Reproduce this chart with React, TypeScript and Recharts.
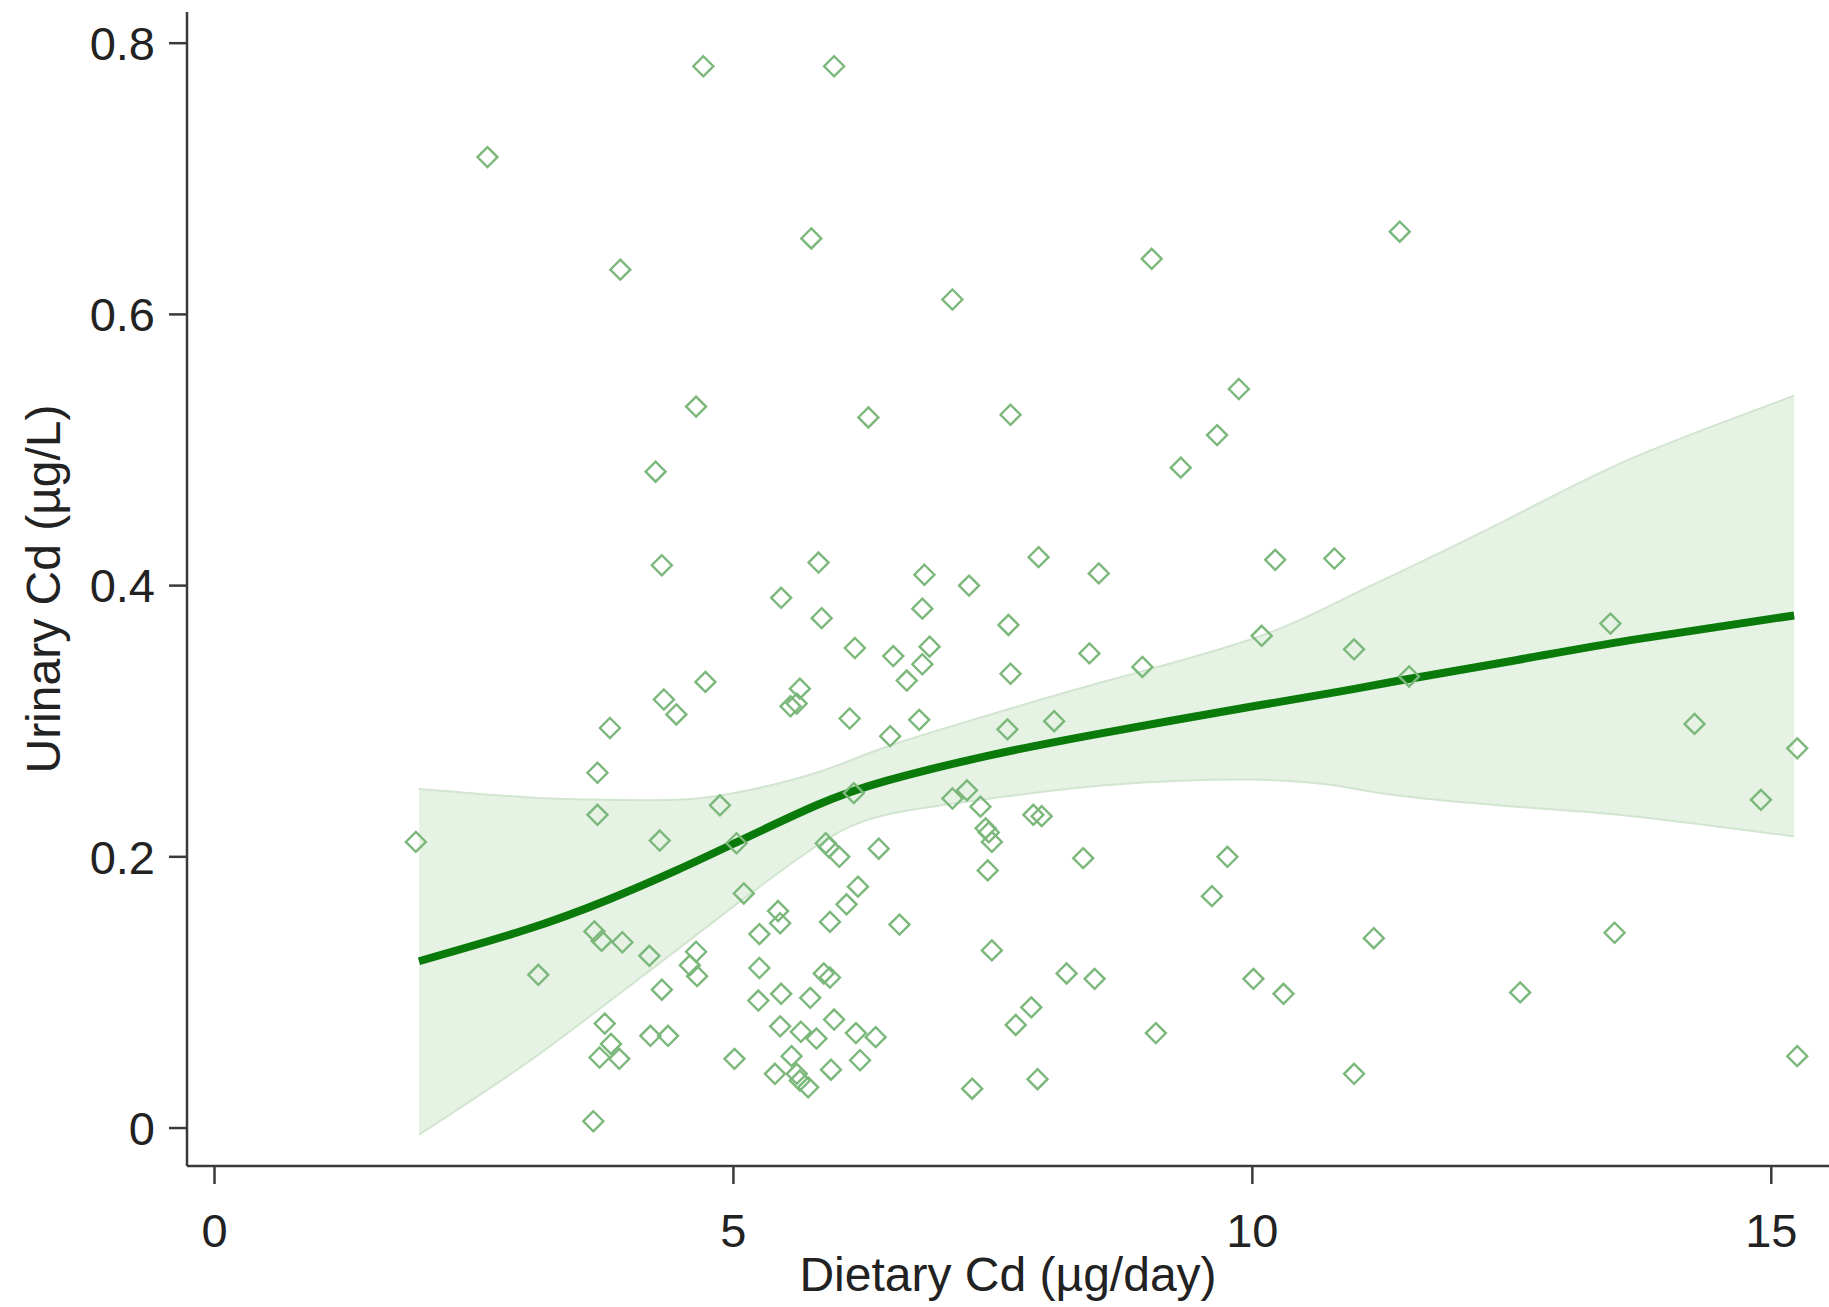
import React from 'react';
import { ComposedChart, XAxis, YAxis, Area, Line, Scatter } from 'recharts';

// Scatter observations: Dietary Cd (µg/day) vs Urinary Cd (µg/L)
const dietaryCd = [
  1.94, 2.63, 3.12, 3.65, 3.69, 3.69, 3.66, 3.73, 3.71, 3.76,
  3.82, 3.90, 3.81, 3.91, 3.93, 4.19, 4.20, 4.25, 4.29, 4.31,
  4.33, 4.31, 4.37, 4.45, 4.58, 4.64, 4.65, 4.64, 4.71, 4.73,
  4.87, 5.03, 5.01, 5.10, 5.25, 5.25, 5.24, 5.43, 5.45, 5.46,
  5.46, 5.45, 5.40, 5.55, 5.64, 5.61, 5.56, 5.61, 5.65, 5.64,
  5.72, 5.75, 5.74, 5.80, 5.82, 5.85, 5.89, 5.92, 5.93, 5.87,
  5.97, 5.93, 5.94, 5.97, 6.02, 6.09, 6.12, 6.16, 6.17, 6.20,
  6.18, 6.22, 6.30, 6.37, 6.40, 6.51, 6.54, 6.60, 6.67, 6.79,
  6.82, 6.82, 6.84, 6.89, 7.11, 7.11, 7.27, 7.25, 7.30, 7.38,
  7.43, 7.46, 7.45, 7.49, 7.49, 7.65, 7.67, 7.67, 7.64, 7.72,
  7.87, 7.89, 7.97, 7.94, 7.93, 8.09, 8.21, 8.37, 8.43, 8.48,
  8.52, 8.94, 9.03, 9.07, 9.31, 9.61, 9.66, 9.76, 9.87, 10.01,
  10.09, 10.22, 10.30, 10.79, 10.98, 10.98, 11.17, 11.42, 11.51, 12.58,
  13.45, 13.49, 14.26, 14.90, 15.25, 15.25,
];
const urinaryCd = [
  0.211, 0.716, 0.113, 0.005, 0.262, 0.231, 0.145, 0.138, 0.052, 0.077,
  0.062, 0.051, 0.295, 0.633, 0.137, 0.127, 0.068, 0.484, 0.212, 0.415,
  0.316, 0.102, 0.068, 0.305, 0.120, 0.130, 0.112, 0.532, 0.783, 0.329,
  0.238, 0.210, 0.051, 0.173, 0.143, 0.118, 0.094, 0.160, 0.151, 0.391,
  0.099, 0.075, 0.040, 0.311, 0.324, 0.313, 0.053, 0.040, 0.071, 0.035,
  0.030, 0.656, 0.096, 0.066, 0.417, 0.376, 0.210, 0.207, 0.111, 0.114,
  0.080, 0.152, 0.043, 0.783, 0.200, 0.165, 0.302, 0.247, 0.354, 0.178,
  0.070, 0.050, 0.524, 0.067, 0.206, 0.289, 0.348, 0.150, 0.330, 0.301,
  0.342, 0.383, 0.408, 0.355, 0.611, 0.243, 0.400, 0.249, 0.029, 0.237,
  0.221, 0.218, 0.190, 0.211, 0.131, 0.371, 0.526, 0.335, 0.294, 0.076,
  0.089, 0.231, 0.230, 0.421, 0.036, 0.300, 0.114, 0.199, 0.350, 0.110,
  0.409, 0.340, 0.641, 0.070, 0.487, 0.171, 0.511, 0.200, 0.545, 0.110,
  0.363, 0.419, 0.099, 0.420, 0.353, 0.040, 0.140, 0.661, 0.333, 0.100,
  0.372, 0.144, 0.298, 0.242, 0.280, 0.053,
];

// Fitted curve and confidence band
const fitX = [1.97, 2.99, 3.78, 4.45, 5.01, 5.80, 6.47, 7.48, 8.61, 10.01, 10.85, 11.42, 12.54, 13.66, 15.22];
const fitY = [0.123, 0.146, 0.168, 0.190, 0.210, 0.238, 0.256, 0.275, 0.292, 0.311, 0.322, 0.330, 0.345, 0.360, 0.378];
const ciLower = [-0.005, 0.047, 0.092, 0.131, 0.164, 0.208, 0.231, 0.243, 0.253, 0.257, 0.252, 0.245, 0.237, 0.230, 0.215];
const ciUpper = [0.250, 0.244, 0.242, 0.242, 0.247, 0.262, 0.281, 0.305, 0.330, 0.361, 0.389, 0.410, 0.452, 0.494, 0.540];

const xTicks = [0, 5, 10, 15];
const yTicks = [0, 0.2, 0.4, 0.6, 0.8];

const xTitle = 'Dietary Cd (µg/day)';
const yTitle = 'Urinary Cd (µg/L)';

const FONT = '"Liberation Sans", Arial, Helvetica, sans-serif';

const scatterData = dietaryCd.map((x, i) => ({ x, y: urinaryCd[i] }));
const fitData = fitX.map((x, i) => ({ x, fit: fitY[i], lo: ciLower[i], hi: ciUpper[i] }));

const Diamond = (props: any) => {
  const { cx, cy } = props;
  if (cx == null || cy == null) return null;
  const r = 10;
  return (
    <path
      d={`M${cx},${cy - r}L${cx + r},${cy}L${cx},${cy + r}L${cx - r},${cy}Z`}
      fill="none"
      stroke="#7cb87c"
      strokeWidth={2.4}
    />
  );
};

const YTitle = (props: any) => {
  const vb = props.viewBox || { x: 0, y: 12, width: 187, height: 1154 };
  const cx = vb.x + 60;
  const cy = vb.y + vb.height / 2;
  return (
    <text
      x={cx}
      y={cy}
      transform={`rotate(-90 ${cx} ${cy})`}
      textAnchor="middle"
      fontSize={48}
      fontFamily={FONT}
      fill="#222"
    >
      {yTitle}
    </text>
  );
};

const XTitle = (props: any) => {
  const vb = props.viewBox || { x: 187, y: 1166, width: 1642, height: 141 };
  return (
    <text
      x={vb.x + vb.width / 2}
      y={vb.y + 125}
      textAnchor="middle"
      fontSize={48}
      fontFamily={FONT}
      fill="#222"
    >
      {xTitle}
    </text>
  );
};

export default function App() {
  return (
    <div style={{ position: 'absolute', left: 0, top: 0, width: 1829, height: 1307, background: '#fff' }}>
      <ComposedChart
        width={1829}
        height={1307}
        data={fitData}
        margin={{ top: 12, right: 0, bottom: 0, left: 0 }}
      >
        <XAxis
          type="number"
          dataKey="x"
          domain={[-0.265, 15.556]}
          ticks={xTicks}
          allowDataOverflow
          height={141}
          tickSize={18}
          tickMargin={30}
          axisLine={{ stroke: '#3a3a3a', strokeWidth: 2.5 }}
          tickLine={{ stroke: '#3a3a3a', strokeWidth: 2.5 }}
          tick={{ fill: '#222', fontSize: 47, fontFamily: FONT }}
          label={{ content: XTitle }}
        />
        <YAxis
          type="number"
          domain={[-0.028, 0.823]}
          ticks={yTicks}
          allowDataOverflow
          width={187}
          tickSize={18}
          tickMargin={14}
          tickFormatter={(v: number) => String(v)}
          axisLine={{ stroke: '#3a3a3a', strokeWidth: 2.5 }}
          tickLine={{ stroke: '#3a3a3a', strokeWidth: 2.5 }}
          tick={{ fill: '#222', fontSize: 47, fontFamily: FONT }}
          label={{ content: YTitle }}
        />
        <Area
          type="natural"
          dataKey={(d: any) => [d.lo, d.hi]}
          fill="#e6f3e4"
          fillOpacity={1}
          stroke="#d2e5d0"
          strokeWidth={2}
          isAnimationActive={false}
          dot={false}
          activeDot={false}
        />
        <Scatter
          data={scatterData}
          dataKey="y"
          shape={Diamond}
          isAnimationActive={false}
        />
        <Line
          type="natural"
          dataKey="fit"
          stroke="#0a7a0a"
          strokeWidth={8}
          dot={false}
          activeDot={false}
          isAnimationActive={false}
        />
      </ComposedChart>
    </div>
  );
}
